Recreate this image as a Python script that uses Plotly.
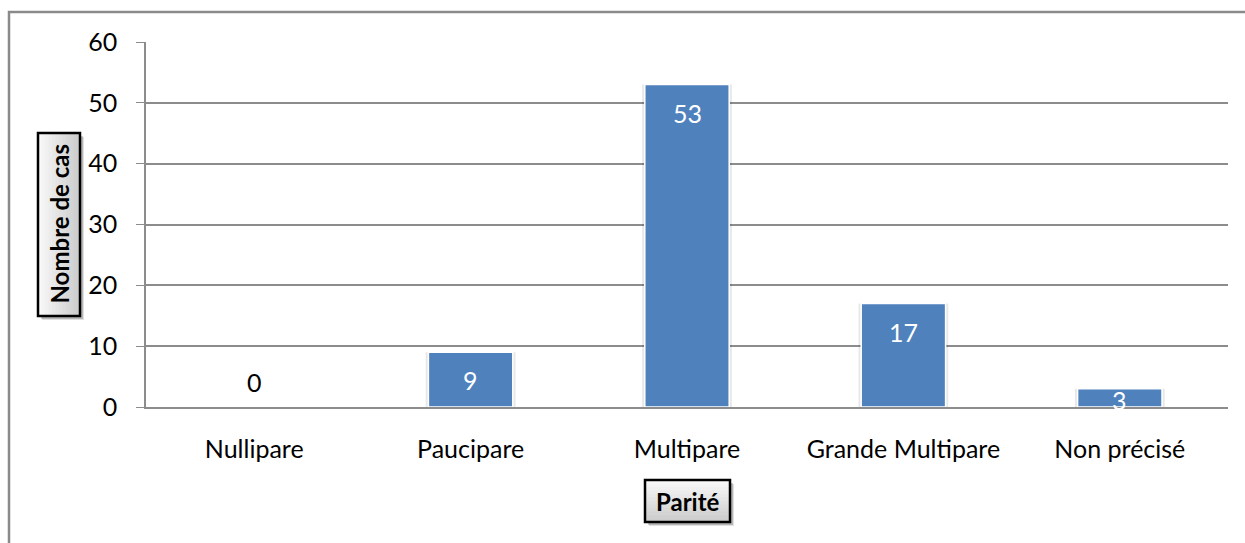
import plotly.graph_objects as go

categories = ["Nullipare", "Paucipare", "Multipare", "Grande Multipare", "Non précisé"]
cases = [0, 9, 53, 17, 3]
y_ticks = [0, 10, 20, 30, 40, 50, 60]

FONT = "Lato"
BLUE = "#4F81BD"
GRID = "#8c8c8c"

W, H = 1245, 543
L, R, T, B = 146, 17, 42, 136


def px_x(px):
    return (px - L) / (W - L - R)


def px_y(py):
    return (H - B - py) / (H - T - B)


def boxed_label(fig, x0, x1, y0, y1, text, angle, vertical_grad):
    # shadow
    for off, alpha in [(4, 0.12), (3, 0.18)]:
        fig.add_shape(type="rect", xref="paper", yref="paper",
                      x0=px_x(x0 + off), x1=px_x(x1 + off), y0=px_y(y1 + off), y1=px_y(y0 + off),
                      fillcolor=f"rgba(0,0,0,{alpha})", line=dict(width=0))
    # gradient fill in overlapping stripes
    n = 12
    for i in range(n):
        g = int(248 - (248 - 205) * i / (n - 1))
        col = f"rgb({g},{g},{g})"
        if vertical_grad:
            a = y0 + (y1 - y0) * i / n
            b = min(y1, y0 + (y1 - y0) * (i + 1) / n + 1)
            fig.add_shape(type="rect", xref="paper", yref="paper",
                          x0=px_x(x0), x1=px_x(x1), y0=px_y(b), y1=px_y(a),
                          fillcolor=col, line=dict(width=0))
        else:
            a = x0 + (x1 - x0) * i / n
            b = min(x1, x0 + (x1 - x0) * (i + 1) / n + 1)
            fig.add_shape(type="rect", xref="paper", yref="paper",
                          x0=px_x(a), x1=px_x(b), y0=px_y(y1), y1=px_y(y0),
                          fillcolor=col, line=dict(width=0))
    fig.add_shape(type="rect", xref="paper", yref="paper",
                  x0=px_x(x0), x1=px_x(x1), y0=px_y(y1), y1=px_y(y0),
                  fillcolor="rgba(0,0,0,0)", line=dict(color="black", width=2.5))
    fig.add_annotation(xref="paper", yref="paper", x=px_x((x0 + x1) / 2), y=px_y((y0 + y1) / 2),
                       xanchor="center", yanchor="middle",
                       text=f"<b>{text}</b>", textangle=angle, showarrow=False,
                       font=dict(family=FONT, size=24, color="black"))


fig = go.Figure()

# soft shadow behind the bars
fig.add_trace(go.Bar(
    x=categories, y=cases, width=0.415,
    marker=dict(color="rgba(0,0,0,0.09)", line=dict(width=0)),
    hoverinfo="skip",
))
fig.add_trace(go.Bar(
    x=categories, y=cases, width=0.39,
    marker=dict(color=BLUE, line=dict(color="white", width=1.5)),
))

# data labels: inside the top of the bar, white; zero bar gets a black label above
for cat, val in zip(categories, cases):
    if val == 0:
        fig.add_annotation(x=cat, y=val, yshift=25, text=str(val), showarrow=False,
                           font=dict(family=FONT, size=25, color="black"))
    elif val < 5:
        fig.add_annotation(x=cat, y=val, yshift=-11, text=str(val), showarrow=False,
                           font=dict(family=FONT, size=25, color="white"))
    else:
        fig.add_annotation(x=cat, y=val, yshift=-28, text=str(val), showarrow=False,
                           font=dict(family=FONT, size=25, color="white"))

# axis titles in boxed labels
boxed_label(fig, 38, 80, 133, 316, "Nombre de cas", -90, False)
boxed_label(fig, 645, 730, 480, 522, "Parité", 0, True)

# outer chart border
fig.add_shape(type="rect", xref="paper", yref="paper",
              x0=px_x(9), x1=1.03, y0=-0.45, y1=px_y(12),
              line=dict(color="#8a8a8a", width=2.5), fillcolor="rgba(0,0,0,0)")

fig.update_layout(
    width=W, height=H,
    margin=dict(l=L, r=R, t=T, b=B),
    paper_bgcolor="white", plot_bgcolor="white",
    showlegend=False, barmode="overlay",
    font=dict(family=FONT, size=25, color="black"),
    xaxis=dict(showgrid=False, showline=True, linecolor=GRID, linewidth=2,
               ticks="", ticklabelstandoff=19, tickfont=dict(size=25)),
    yaxis=dict(range=[0, 60], tickvals=y_ticks, showgrid=True, gridcolor=GRID, gridwidth=1.5,
               showline=True, linecolor=GRID, linewidth=1.5, ticks="outside", ticklen=8,
               tickcolor=GRID, zeroline=False, tickfont=dict(size=25), ticklabelstandoff=14),
)

fig.write_html("out.html", config={"displayModeBar": False},
               post_script="document.body.style.margin='0';document.body.style.overflow='hidden';")
